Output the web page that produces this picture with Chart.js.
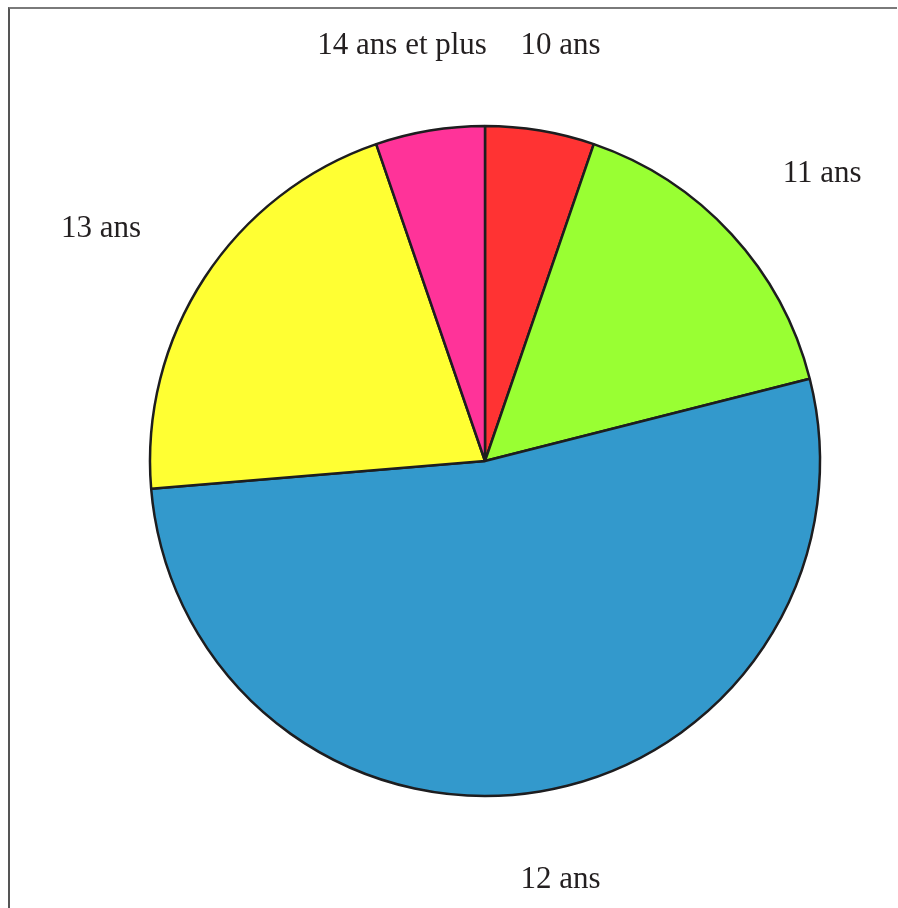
<!DOCTYPE html>
<html lang="fr">
<head>
<meta charset="utf-8">
<title>Répartition par âge</title>
<script src="https://cdn.jsdelivr.net/npm/chart.js@4/dist/chart.umd.min.js"></script>
<style>
  html, body { margin: 0; padding: 0; background: #fff; }
  #wrap { position: relative; width: 898px; height: 908px; }
  #frame {
    position: absolute; left: 8px; top: 7px; width: 889px; height: 901px;
    border-top: 2px solid #7a7a7a; border-left: 2px solid #555;
    box-sizing: border-box; pointer-events: none;
  }
  canvas { position: absolute; left: 0; top: 0; }
</style>
</head>
<body>
<div id="wrap">
  <canvas id="chart" width="898" height="908"></canvas>
  <div id="frame"></div>
</div>
<script>
// Age groups and number of pupils in each
const categories = ['10 ans', '11 ans', '12 ans', '13 ans', '14 ans et plus'];
const counts = [1, 3, 10, 4, 1];
const sliceColors = ['#ff3333', '#99ff33', '#3399cc', '#ffff33', '#ff3399'];

// Writes each category name outside its slice, along the slice's middle angle
const outerLabels = {
  id: 'outerLabels',
  afterDatasetsDraw(chart) {
    const ctx = chart.ctx;
    const meta = chart.getDatasetMeta(0);
    ctx.save();
    ctx.font = '31px "Liberation Serif", "Times New Roman", serif';
    ctx.fillStyle = '#231f20';
    ctx.textAlign = 'center';
    ctx.textBaseline = 'middle';
    meta.data.forEach((arc, i) => {
      const p = arc.getProps(['x', 'y', 'startAngle', 'endAngle', 'outerRadius'], true);
      const mid = (p.startAngle + p.endAngle) / 2;
      const text = chart.data.labels[i];
      const w = ctx.measureText(text).width;
      const d = p.outerRadius * 1.25;
      const cx = Math.cos(mid), sy = Math.sin(mid);
      const x = p.x + cx * (d + w / 2);
      const y = p.y + sy * (d + 4) + 3 - 5 * Math.abs(cx);
      ctx.fillText(text, x, y);
    });
    ctx.restore();
  }
};

new Chart(document.getElementById('chart'), {
  type: 'pie',
  data: {
    labels: categories,
    datasets: [{
      data: counts,
      backgroundColor: sliceColors,
      borderColor: '#1d1d1f',
      borderWidth: 2.5
    }]
  },
  options: {
    responsive: false,
    animation: false,
    radius: 335,
    layout: { padding: { left: 72, right: 0, top: 14, bottom: 0 } },
    plugins: {
      legend: { display: false },
      tooltip: { enabled: false }
    }
  },
  plugins: [outerLabels]
});
</script>
</body>
</html>
